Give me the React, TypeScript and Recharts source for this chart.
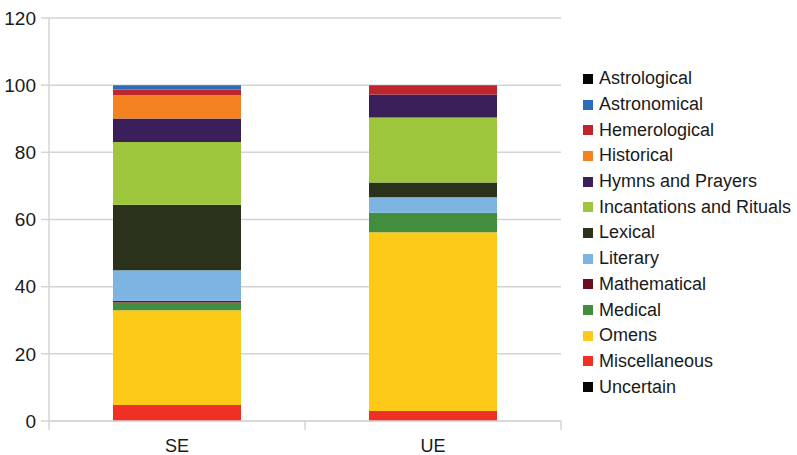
import { Bar, BarChart, CartesianGrid, XAxis, YAxis } from "recharts";

// categories on the x axis
const categories = ["SE", "UE"];

// series listed from the bottom of the stack upwards
const seriesNames = [
  "Uncertain",
  "Miscellaneous",
  "Omens",
  "Medical",
  "Mathematical",
  "Literary",
  "Lexical",
  "Incantations and Rituals",
  "Hymns and Prayers",
  "Historical",
  "Hemerological",
  "Astronomical",
  "Astrological",
];

const seriesColors = [
  "#050505",
  "#ee3124",
  "#fdca18",
  "#438e3e",
  "#6a0e1f",
  "#7db4e2",
  "#2a321b",
  "#9dc63c",
  "#3b1f5b",
  "#f58220",
  "#bf252c",
  "#2c6db9",
  "#050505",
];

// percentages, same order as seriesNames
const seValues = [0, 4.8, 28.2, 2.3, 0.5, 9.1, 19.5, 18.7, 7.0, 6.9, 1.7, 1.3, 0];
const ueValues = [0, 3.0, 53.2, 5.8, 0, 4.6, 4.4, 19.4, 6.8, 0, 2.8, 0, 0];

const yTicks = [0, 20, 40, 60, 80, 100, 120];

const valuesByCategory = [seValues, ueValues];

const data = categories.map((cat, ci) => {
  const row: Record<string, string | number> = { name: cat };
  seriesNames.forEach((s, si) => {
    row[s] = valuesByCategory[ci][si];
  });
  return row;
});

const font = "'Liberation Sans', Arial, sans-serif";
const gridColor = "#d4d4d4";
const textColor = "#1a1a1a";

function CategoryTick(props: any) {
  const { x, y, payload, index } = props;
  const half = payload.offset || 0;
  return (
    <g>
      {index === 0 && (
        <line x1={x - half} x2={x - half} y1={y - 8} y2={y + 1} stroke={gridColor} strokeWidth={1.5} />
      )}
      <line x1={x + half} x2={x + half} y1={y - 8} y2={y + 1} stroke={gridColor} strokeWidth={1.5} />
      <text x={x} y={y + 23} textAnchor="middle" fontSize={18} fill={textColor} fontFamily={font}>
        {payload.value}
      </text>
    </g>
  );
}

function LegendList() {
  const items = seriesNames.map((n, i) => ({ name: n, color: seriesColors[i] })).reverse();
  return (
    <div style={{ fontFamily: font, fontSize: 18, color: textColor }}>
      {items.map((it) => (
        <div key={it.name} style={{ display: "flex", alignItems: "center", height: 25.7, whiteSpace: "nowrap" }}>
          <span style={{ width: 10, height: 10, background: it.color, marginRight: 6, display: "inline-block" }} />
          <span>{it.name}</span>
        </div>
      ))}
    </div>
  );
}

export default function App() {
  return (
    <div style={{ position: "absolute", left: 0, top: 0, width: 797, height: 455, background: "#fff", overflow: "hidden" }}>
      <BarChart
        width={797}
        height={455}
        data={data}
        margin={{ top: 18, right: 236, bottom: 0, left: 0 }}
        barCategoryGap="25%"
      >
        <CartesianGrid vertical={false} stroke={gridColor} strokeWidth={1.5} />
        <XAxis
          dataKey="name"
          height={34}
          axisLine={{ stroke: gridColor, strokeWidth: 1.5 }}
          tickLine={false}
          tick={<CategoryTick />}
          interval={0}
        />
        <YAxis
          width={49}
          domain={[0, 120]}
          ticks={yTicks}
          interval={0}
          axisLine={{ stroke: gridColor, strokeWidth: 1.5 }}
          tickLine={{ stroke: gridColor, strokeWidth: 1.5 }}
          tickSize={8}
          tickMargin={5}
          tick={{ fontSize: 19, fill: textColor, fontFamily: font }}
        />
        <YAxis
          yAxisId="frame"
          orientation="right"
          width={0}
          domain={[0, 120]}
          tick={false}
          tickLine={false}
          axisLine={{ stroke: gridColor, strokeWidth: 1.5 }}
        />
        {seriesNames.map((s, i) => (
          <Bar key={s} dataKey={s} stackId="a" fill={seriesColors[i]} isAnimationActive={false} />
        ))}
      </BarChart>
      <div style={{ position: "absolute", left: 583, top: 66 }}>
        <LegendList />
      </div>
    </div>
  );
}
